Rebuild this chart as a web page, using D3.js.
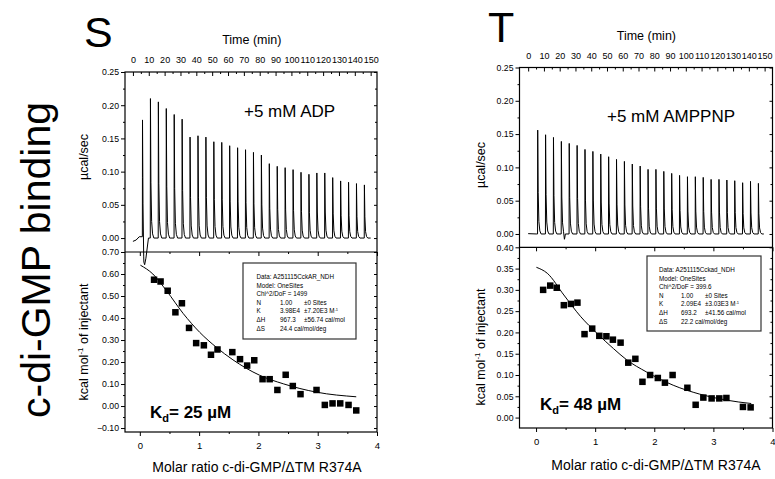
<!DOCTYPE html>
<html>
<head>
<meta charset="utf-8">
<script src="https://cdn.jsdelivr.net/npm/d3@7"></script>
<style>
  body { margin: 0; background: #fff; }
  svg { display: block; font-family: "Liberation Sans", Arial, sans-serif; }
</style>
</head>
<body>
<div id="chart"></div>
<script>
// ---- data ----
const injTimes = [6, 11, 16, 21, 26, 31, 36, 41, 46, 51, 56, 61, 66, 71, 76, 81, 86, 91, 96, 101, 106, 111, 116, 121, 126, 131, 136, 141, 146];

// raw thermogram peak heights (µcal/sec)
const peaksS = [0.179, 0.210, 0.205, 0.195, 0.186, 0.179, 0.152, 0.154, 0.152, 0.145, 0.144, 0.139, 0.136, 0.133, 0.129,
                0.125, 0.112, 0.108, 0.106, 0.103, 0.099, 0.096, 0.098, 0.098, 0.091, 0.086, 0.084, 0.082, 0.080];
const peaksT = [0.156, 0.149, 0.145, 0.139, 0.136, 0.133, 0.127, 0.124, 0.120, 0.116, 0.112, 0.109, 0.105, 0.102, 0.097,
                0.097, 0.094, 0.091, 0.088, 0.086, 0.086, 0.085, 0.082, 0.082, 0.081, 0.080, 0.077, 0.079, 0.076];

// baseline drift [time, value]
const baseS = [[0, -0.005], [2, -0.003], [4, 0.002], [6, 0.002], [6.9, -0.055], [9.8, 0.0], [150, 0.0]];
const baseT = [[0, 0.0005], [5.5, 0.0], [22.4, 0.0], [23, -0.009], [23.6, 0.0], [149.5, 0.0]];

// integrated heats (kcal/mol of injectant)
const ratioS = [0.24, 0.35, 0.47, 0.60, 0.71, 0.83, 0.95, 1.08, 1.20, 1.31, 1.56, 1.69, 1.81, 1.93, 2.07, 2.19, 2.32,
                2.46, 2.58, 2.71, 2.98, 3.12, 3.25, 3.38, 3.52, 3.65];
const heatS = [0.574, 0.566, 0.524, 0.426, 0.467, 0.355, 0.286, 0.276, 0.233, 0.257, 0.245, 0.213, 0.184, 0.208, 0.122,
               0.122, 0.073, 0.142, 0.091, 0.054, 0.073, 0.005, 0.012, 0.012, 0.005, -0.020];
const fitRatioS = [0.01, 0.22, 0.45, 0.73, 1.01, 1.29, 1.57, 2.02, 2.42, 2.98, 3.65];
const fitHeatS = [0.640, 0.600, 0.524, 0.421, 0.335, 0.267, 0.210, 0.140, 0.101, 0.063, 0.042];

const ratioT = [0.12, 0.24, 0.35, 0.47, 0.59, 0.70, 0.82, 0.95, 1.07, 1.19, 1.30, 1.43, 1.56, 1.68, 1.80, 1.93, 2.06,
                2.18, 2.31, 2.56, 2.70, 2.83, 2.97, 3.10, 3.22, 3.50, 3.63];
const heatT = [0.300, 0.310, 0.305, 0.264, 0.267, 0.270, 0.196, 0.209, 0.192, 0.191, 0.183, 0.176, 0.129, 0.138, 0.084,
               0.100, 0.093, 0.082, 0.100, 0.070, 0.030, 0.047, 0.045, 0.045, 0.046, 0.025, 0.024];
const fitRatioT = [0.006, 0.19, 0.47, 0.75, 1.03, 1.31, 1.53, 1.87, 2.32, 2.77, 3.22, 3.64];
const fitHeatT = [0.353, 0.339, 0.288, 0.238, 0.198, 0.162, 0.136, 0.107, 0.076, 0.055, 0.041, 0.033];

// tick labels
const timeTicks = [0, 10, 20, 30, 40, 50, 60, 70, 80, 90, 100, 110, 120, 130, 140, 150];
const rawTicks = [0.00, 0.05, 0.10, 0.15, 0.20, 0.25];
const heatTicksS = [-0.10, 0.00, 0.10, 0.20, 0.30, 0.40, 0.50, 0.60, 0.70];
const heatTicksT = [0.00, 0.05, 0.10, 0.15, 0.20, 0.25, 0.30, 0.35, 0.40];
const ratioTicks = [0, 1, 2, 3, 4];

// fit report boxes
const boxS = [["Data: A251115CckAR_NDH"], ["Model: OneSites"], ["Chi^2/DoF = 1499"],
              ["N", "1.00", "±0 Sites"], ["K", "3.98E4", "±7.20E3 M", "-1"], ["ΔH", "967.3", "±56.74 cal/mol"],
              ["ΔS", "24.4 cal/mol/deg"]];
const boxT = [["Data: A251115Cckad_NDH"], ["Model: OneSites"], ["Chi^2/DoF = 399.6"],
              ["N", "1.00", "±0 Sites"], ["K", "2.09E4", "±3.03E3 M", "-1"], ["ΔH", "693.2", "±41.56 cal/mol"],
              ["ΔS", "22.2 cal/mol/deg"]];

// peak shape (offset in min, fraction of peak height)
const shapeDt = [-0.05, 0.05, 0.35, 0.8, 1.4, 2.2];
const shapeFrac = [0, 1, 0.4, 0.12, 0.03, 0];

const width = 775, height = 479;
const svg = d3.select('#chart').append('svg')
    .attr('width', width).attr('height', height);

// big side label
svg.append('text')
    .attr('transform', 'translate(50,260) rotate(-90)')
    .attr('text-anchor', 'middle')
    .style('font-size', '41px')
    .text('c-di-GMP binding');

function drawPanel(p) {
    const g = svg.append('g');

    const xT = d3.scaleLinear().domain(p.timeDomain).range([p.x0, p.x1]);
    const yR = d3.scaleLinear().domain(p.rawDomain).range([p.yMid, p.yTop]);
    const xM = d3.scaleLinear().domain(p.ratioDomain).range([p.x0, p.x1]);
    const yH = d3.scaleLinear().domain(p.heatDomain).range([p.yBot, p.yMid]);

    // panel letter
    g.append('text').attr('x', p.letterX).attr('y', p.letterY)
        .style('font-size', '43px').text(p.letter);

    // time title
    g.append('text').attr('x', xT(75)).attr('y', p.yTop - 28)
        .attr('text-anchor', 'middle').style('font-size', '12.5px').text('Time (min)');

    // ---- top (raw) panel axes ----
    const minorOf = (arr) => arr.slice(0, -1).map((d, i) => (d + arr[i + 1]) / 2);

    const topAx = g.append('g').attr('transform', `translate(0,${p.yTop})`)
        .call(d3.axisTop(xT).tickValues(timeTicks).tickSize(-4).tickPadding(9).tickFormat(d3.format('d')));
    topAx.selectAll('text').style('font-size', '9px');
    g.append('g').attr('transform', `translate(0,${p.yTop})`)
        .call(d3.axisTop(xT).tickValues(minorOf(timeTicks)).tickSize(-2).tickFormat(''));

    const leftRaw = g.append('g').attr('transform', `translate(${p.x0},0)`)
        .call(d3.axisLeft(yR).tickValues(rawTicks).tickSize(4).tickPadding(2).tickFormat(d3.format('.2f')));
    leftRaw.selectAll('text').style('font-size', '8.7px');
    g.append('g').attr('transform', `translate(${p.x0},0)`)
        .call(d3.axisLeft(yR).tickValues(minorOf(rawTicks)).tickSize(2).tickFormat(''));
    g.append('g').attr('transform', `translate(${p.x1},0)`)
        .call(d3.axisRight(yR).tickValues(rawTicks).tickSize(-3).tickFormat(''));
    g.append('g').attr('transform', `translate(${p.x1},0)`)
        .call(d3.axisRight(yR).tickValues(minorOf(rawTicks)).tickSize(-2).tickFormat(''));

    // ---- bottom (heat) panel axes ----
    const leftHeat = g.append('g').attr('transform', `translate(${p.x0},0)`)
        .call(d3.axisLeft(yH).tickValues(p.heatTicks).tickSize(4).tickPadding(2).tickFormat(d3.format('.2f')));
    leftHeat.selectAll('text').style('font-size', '8.7px');
    g.append('g').attr('transform', `translate(${p.x0},0)`)
        .call(d3.axisLeft(yH).tickValues(minorOf(p.heatTicks)).tickSize(2).tickFormat(''));
    g.append('g').attr('transform', `translate(${p.x1},0)`)
        .call(d3.axisRight(yH).tickValues(p.heatTicks).tickSize(-3).tickFormat(''));
    g.append('g').attr('transform', `translate(${p.x1},0)`)
        .call(d3.axisRight(yH).tickValues(minorOf(p.heatTicks)).tickSize(-2).tickFormat(''));

    const botAx = g.append('g').attr('transform', `translate(0,${p.yBot})`)
        .call(d3.axisBottom(xM).tickValues(ratioTicks).tickSize(4).tickPadding(6).tickFormat(d3.format('d')));
    botAx.selectAll('text').style('font-size', '9.5px');
    g.append('g').attr('transform', `translate(0,${p.yBot})`)
        .call(d3.axisBottom(xM).tickValues(minorOf(ratioTicks)).tickSize(2).tickFormat(''));
    g.append('g').attr('transform', `translate(0,${p.yMid})`)
        .call(d3.axisBottom(xM).tickValues(ratioTicks).tickSize(4).tickFormat(''));
    g.append('g').attr('transform', `translate(0,${p.yMid})`)
        .call(d3.axisBottom(xM).tickValues(minorOf(ratioTicks)).tickSize(2).tickFormat(''));

    g.selectAll('.domain').remove();
    g.selectAll('.tick line').attr('stroke', '#000');
    g.selectAll('.tick text').attr('fill', '#000');

    // frames
    g.append('rect').attr('x', p.x0).attr('y', p.yTop)
        .attr('width', p.x1 - p.x0).attr('height', p.yBot - p.yTop)
        .attr('fill', 'none').attr('stroke', '#000').attr('stroke-width', 1.2);
    g.append('line').attr('x1', p.x0).attr('x2', p.x1).attr('y1', p.yMid).attr('y2', p.yMid)
        .attr('stroke', '#000').attr('stroke-width', 1.2);

    // ---- thermogram trace ----
    const baseFn = (t) => {
        const b = p.base;
        if (t <= b[0][0]) return b[0][1];
        for (let i = 1; i < b.length; i++) {
            if (t <= b[i][0]) {
                const f = (t - b[i - 1][0]) / (b[i][0] - b[i - 1][0]);
                return b[i - 1][1] + f * (b[i][1] - b[i - 1][1]);
            }
        }
        return b[b.length - 1][1];
    };
    const spikeFn = (t) => {
        let s = 0;
        injTimes.forEach((t0, i) => {
            const dt = t - t0;
            for (let k = 1; k < shapeDt.length; k++) {
                if (dt >= shapeDt[k - 1] && dt <= shapeDt[k]) {
                    const f = (dt - shapeDt[k - 1]) / (shapeDt[k] - shapeDt[k - 1]);
                    s += p.peaks[i] * (shapeFrac[k - 1] + f * (shapeFrac[k] - shapeFrac[k - 1]));
                }
            }
        });
        return s;
    };
    const tEnd = p.base[p.base.length - 1][0];
    let times = p.base.map(d => d[0]);
    injTimes.forEach(t0 => shapeDt.forEach(dt => times.push(t0 + dt)));
    times = Array.from(new Set(times)).filter(t => t >= 0 && t <= tEnd).sort((a, b) => a - b);
    const trace = times.map(t => [t, baseFn(t) + spikeFn(t)]);

    g.append('path')
        .datum(trace)
        .attr('fill', 'none').attr('stroke', '#000').attr('stroke-width', 1)
        .attr('stroke-linejoin', 'round')
        .attr('d', d3.line().x(d => xT(d[0])).y(d => yR(d[1])));

    // ---- fit line + points ----
    const fit = p.fitRatio.map((r, i) => [r, p.fitHeat[i]]);
    g.append('path')
        .datum(fit)
        .attr('fill', 'none').attr('stroke', '#000').attr('stroke-width', 1)
        .attr('d', d3.line().curve(d3.curveMonotoneX).x(d => xM(d[0])).y(d => yH(d[1])));

    const pts = p.ratio.map((r, i) => [r, p.heat[i]]);
    const sq = 6.5;
    g.append('g').selectAll('rect').data(pts).join('rect')
        .attr('x', d => xM(d[0]) - sq / 2)
        .attr('y', d => yH(d[1]) - sq / 2)
        .attr('width', sq).attr('height', sq)
        .attr('fill', '#000');

    // ---- annotations ----
    g.append('text').attr('x', p.condX).attr('y', p.condY)
        .style('font-size', '17px').text(p.cond);

    const kd = g.append('text').attr('x', p.kdX).attr('y', p.kdY)
        .style('font-size', '17px').style('font-weight', 'bold');
    kd.append('tspan').text('K');
    kd.append('tspan').attr('dy', 4).style('font-size', '11px').text('d');
    kd.append('tspan').attr('dy', -4).text('= ' + p.kd + ' µM');

    // axis titles
    g.append('text')
        .attr('transform', `translate(${p.yLabX},${p.rawLabY}) rotate(-90)`)
        .attr('text-anchor', 'middle').style('font-size', '12.5px').text('µcal/sec');
    const kl = g.append('text')
        .attr('transform', `translate(${p.yLabX},${p.heatLabY}) rotate(-90)`)
        .attr('text-anchor', 'middle').style('font-size', '12.5px');
    kl.append('tspan').text('kcal mol');
    kl.append('tspan').attr('dy', -5).style('font-size', '8px').text('-1');
    kl.append('tspan').attr('dy', 5).text(' of injectant');

    g.append('text').attr('x', p.molX).attr('y', p.molY)
        .attr('text-anchor', 'middle').style('font-size', '14px')
        .text('Molar ratio c-di-GMP/ΔTM R374A');

    // fit report box
    const b = p.box;
    g.append('rect').attr('x', b.x).attr('y', b.y).attr('width', b.w).attr('height', b.h)
        .attr('fill', '#fff').attr('stroke', '#333').attr('stroke-width', 1.2);
    const rows = g.append('g').style('font-size', '6.3px');
    p.boxText.forEach((row, i) => {
        const y = b.ty + i * 8.6;
        if (row.length === 1) {
            rows.append('text').attr('x', b.tx).attr('y', y).text(row[0]);
        } else {
            rows.append('text').attr('x', b.tx).attr('y', y).text(row[0]);
            rows.append('text').attr('x', b.tx + b.c2).attr('y', y).text(row[1]);
            if (row.length > 2) {
                const t = rows.append('text').attr('x', b.tx + b.c3).attr('y', y).text(row[2]);
                if (row.length > 3) t.append('tspan').attr('dy', -2.5).style('font-size', '4px').text(row[3]);
            }
        }
    });
}

drawPanel({
    letter: 'S', letterX: 84, letterY: 47,
    x0: 125, x1: 377, yTop: 72, yMid: 252, yBot: 432,
    timeDomain: [-5, 154], rawDomain: [-0.021, 0.25],
    ratioDomain: [-0.25, 4.0], heatDomain: [-0.118, 0.70],
    heatTicks: heatTicksS,
    peaks: peaksS, base: baseS,
    ratio: ratioS, heat: heatS, fitRatio: fitRatioS, fitHeat: fitHeatS,
    cond: '+5 mM ADP', condX: 244, condY: 117,
    kd: '25', kdX: 150, kdY: 418,
    yLabX: 88, rawLabY: 157, heatLabY: 342,
    molX: 257, molY: 472,
    box: { x: 243, y: 263, w: 113, h: 76, tx: 256.5, ty: 279, c2: 23.5, c3: 47.5 },
    boxText: boxS
});

drawPanel({
    letter: 'T', letterX: 488, letterY: 42,
    x0: 519.5, x1: 772.5, yTop: 67.5, yMid: 247.3, yBot: 428,
    timeDomain: [-5.5, 155], rawDomain: [-0.02, 0.25],
    ratioDomain: [-0.28, 4.0], heatDomain: [-0.0245, 0.40],
    heatTicks: heatTicksT,
    peaks: peaksT, base: baseT,
    ratio: ratioT, heat: heatT, fitRatio: fitRatioT, fitHeat: fitHeatT,
    cond: '+5 mM AMPPNP', condX: 607, condY: 122,
    kd: '48', kdX: 540, kdY: 410,
    yLabX: 485, rawLabY: 165, heatLabY: 347,
    molX: 656, molY: 470,
    box: { x: 647, y: 256, w: 114, h: 75, tx: 659, ty: 272, c2: 22, c3: 46 },
    boxText: boxT
});
</script>
</body>
</html>
